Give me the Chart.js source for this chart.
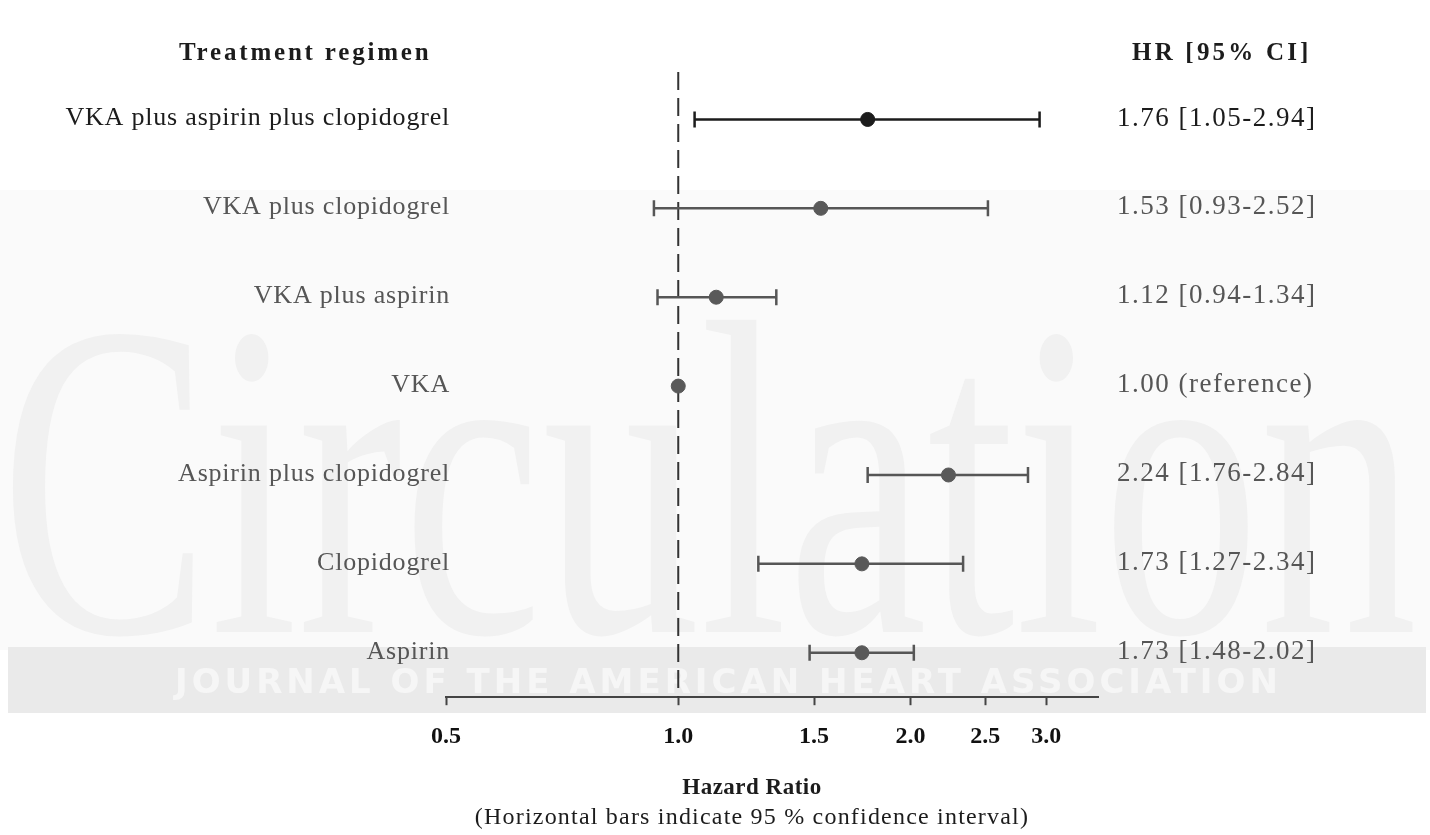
<!DOCTYPE html>
<html lang="en">
<head>
    <meta charset="UTF-8">
    <title>Treatment regimen - Hazard Ratio</title>
    <script src="https://cdn.jsdelivr.net/npm/chart.js"></script>
    <style>
        html, body { margin: 0; padding: 0; background: #ffffff; }
        #wrap { width: 1430px; height: 835px; }
    </style>
</head>
<body>
    <div id="wrap"><canvas id="grafico" width="1430" height="835"></canvas></div>

    <script>
        // data
        const regimens = [
            'VKA plus aspirin plus clopidogrel',
            'VKA plus clopidogrel',
            'VKA plus aspirin',
            'VKA',
            'Aspirin plus clopidogrel',
            'Clopidogrel',
            'Aspirin'
        ];
        const hazardRatio = [1.76, 1.53, 1.12, 1.00, 2.24, 1.73, 1.73];
        const ciLower = [1.05, 0.93, 0.94, null, 1.76, 1.27, 1.48];
        const ciUpper = [2.94, 2.52, 1.34, null, 2.84, 2.34, 2.02];
        const hrText = [
            '1.76 [1.05-2.94]',
            '1.53 [0.93-2.52]',
            '1.12 [0.94-1.34]',
            '1.00 (reference)',
            '2.24 [1.76-2.84]',
            '1.73 [1.27-2.34]',
            '1.73 [1.48-2.02]'
        ];
        const xTicks = [0.5, 1.0, 1.5, 2.0, 2.5, 3.0];

        const serif = '"Liberation Serif", "Times New Roman", serif';
        const rowColor = i => i === 0 ? '#1c1c1c' : '#565656';

        // faint journal watermark behind the plot
        const fondo = {
            id: 'fondo',
            beforeDraw(chart) {
                const ctx = chart.ctx;
                ctx.save();
                ctx.fillStyle = '#ffffff';
                ctx.fillRect(0, 0, chart.width, chart.height);
                ctx.fillStyle = '#fafafa';
                ctx.fillRect(0, 190, chart.width, 460);
                ctx.fillStyle = '#f1f1f1';
                ctx.font = '450px ' + serif;
                ctx.textBaseline = 'alphabetic';
                ctx.translate(0, 632);
                ctx.scale(0.7, 1);
                ctx.fillText('Circulation', 0, 0);
                ctx.restore();

                ctx.save();
                ctx.fillStyle = '#eaeaea';
                ctx.fillRect(8, 647, 1418, 66);
                ctx.fillStyle = '#f6f6f6';
                ctx.font = 'bold 34px "DejaVu Sans", sans-serif';
                ctx.textBaseline = 'middle';
                ctx.letterSpacing = '4px';
                ctx.fillText('JOURNAL OF THE AMERICAN HEART ASSOCIATION', 175, 684);
                ctx.restore();
            }
        };

        // reference line at HR = 1 and the confidence interval bars
        const intervalos = {
            id: 'intervalos',
            beforeDatasetsDraw(chart) {
                const ctx = chart.ctx;
                const x = chart.scales.x;
                const y = chart.scales.y;
                const area = chart.chartArea;

                ctx.save();
                ctx.strokeStyle = '#333333';
                ctx.lineWidth = 2;
                ctx.setLineDash([18, 8]);
                const x1 = x.getPixelForValue(1);
                ctx.beginPath();
                ctx.moveTo(x1, area.top - 3);
                ctx.lineTo(x1, area.bottom);
                ctx.stroke();
                ctx.setLineDash([]);

                for (let i = 0; i < regimens.length; i++) {
                    if (ciLower[i] === null) continue;
                    const yp = y.getPixelForValue(i);
                    const xl = x.getPixelForValue(ciLower[i]);
                    const xh = x.getPixelForValue(ciUpper[i]);
                    ctx.strokeStyle = rowColor(i);
                    ctx.lineWidth = 2.5;
                    ctx.beginPath();
                    ctx.moveTo(xl, yp);
                    ctx.lineTo(xh, yp);
                    ctx.moveTo(xl, yp - 8);
                    ctx.lineTo(xl, yp + 8);
                    ctx.moveTo(xh, yp - 8);
                    ctx.lineTo(xh, yp + 8);
                    ctx.stroke();
                }
                ctx.restore();
            }
        };

        // row labels, HR column, headers and axis title
        const textos = {
            id: 'textos',
            afterDraw(chart) {
                const ctx = chart.ctx;
                const y = chart.scales.y;
                ctx.save();
                ctx.textBaseline = 'middle';

                for (let i = 0; i < regimens.length; i++) {
                    const yp = y.getPixelForValue(i) - 1;
                    ctx.fillStyle = rowColor(i);
                    ctx.font = '26px ' + serif;
                    ctx.letterSpacing = '0.8px';
                    ctx.textAlign = 'right';
                    ctx.fillText(regimens[i], 450, yp);
                    ctx.font = '27px ' + serif;
                    ctx.letterSpacing = '1.5px';
                    ctx.textAlign = 'left';
                    ctx.fillText(hrText[i], 1117, yp);
                }

                ctx.fillStyle = '#1c1c1c';
                ctx.font = 'bold 25px ' + serif;
                ctx.textAlign = 'left';
                ctx.letterSpacing = '2.8px';
                ctx.fillText('Treatment regimen', 179, 54);
                ctx.letterSpacing = '3.2px';
                ctx.fillText('HR [95% CI]', 1132, 54);

                ctx.textAlign = 'center';
                ctx.font = 'bold 23px ' + serif;
                ctx.letterSpacing = '0.5px';
                ctx.fillText('Hazard Ratio', 752, 788);
                ctx.font = '24px ' + serif;
                ctx.letterSpacing = '1.2px';
                ctx.fillText('(Horizontal bars indicate 95 % confidence interval)', 752, 818);
                ctx.restore();
            }
        };

        const ctx = document.getElementById('grafico').getContext('2d');
        new Chart(ctx, {
            type: 'scatter',
            data: {
                datasets: [{
                    label: 'Hazard Ratio',
                    data: hazardRatio.map((v, i) => ({ x: v, y: i })),
                    pointRadius: 7,
                    pointHoverRadius: 7,
                    pointBackgroundColor: hazardRatio.map((v, i) => i === 0 ? '#1c1c1c' : '#595959'),
                    pointBorderColor: hazardRatio.map((v, i) => i === 0 ? '#1c1c1c' : '#595959'),
                    pointBorderWidth: 1,
                }]
            },
            options: {
                responsive: false,
                animation: false,
                layout: {
                    padding: { left: 446, right: 332, top: 75, bottom: 67 }
                },
                plugins: {
                    legend: { display: false },
                    tooltip: { enabled: false },
                },
                scales: {
                    x: {
                        type: 'logarithmic',
                        min: 0.5,
                        max: 3.5,
                        afterBuildTicks: scale => {
                            scale.ticks = xTicks.map(v => ({ value: v }));
                        },
                        ticks: {
                            autoSkip: false,
                            maxRotation: 0,
                            padding: 17,
                            color: '#111111',
                            font: { family: serif, size: 24, weight: 'bold' },
                            callback: v => Number(v).toFixed(1),
                        },
                        grid: {
                            drawOnChartArea: false,
                            drawTicks: true,
                            tickLength: 8,
                            tickWidth: 2,
                            tickColor: '#444444',
                        },
                        border: { display: true, color: '#444444', width: 2 },
                    },
                    y: {
                        type: 'linear',
                        min: -0.5,
                        max: 6.5,
                        reverse: true,
                        display: false,
                    },
                },
            },
            plugins: [fondo, intervalos, textos],
        });
    </script>
</body>
</html>
